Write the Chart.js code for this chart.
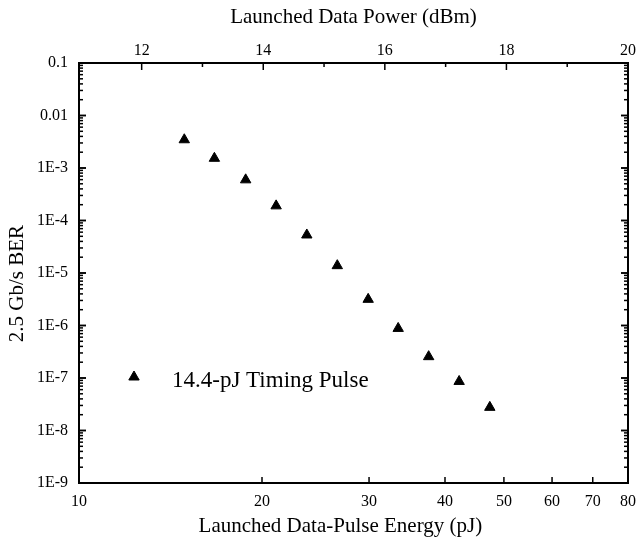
<!DOCTYPE html>
<html>
<head>
<meta charset="utf-8">
<title>BER x Energia</title>
<script src="https://cdn.jsdelivr.net/npm/chart.js@4.4.1/dist/chart.umd.min.js"></script>
<style>
	html, body { margin: 0; padding: 0; background: #fff; }
</style>
</head>
<body>
<canvas id="grafico" width="637" height="540"></canvas>
<script>
// Dados
const energiaPJ = [14.9, 16.7, 18.8, 21.1, 23.7, 26.6, 29.9, 33.5, 37.6, 42.2, 47.4];
const berMedido = [3.45e-3, 1.53e-3, 5.95e-4, 1.9e-4, 5.3e-5, 1.38e-5, 3.15e-6, 8.8e-7, 2.55e-7, 8.6e-8, 2.76e-8];

const ticksEnergia = [10, 20, 30, 40, 50, 60, 70, 80];
const ticksPotencia = [12, 14, 16, 18, 20];
const ticksBer = [1e-1, 1e-2, 1e-3, 1e-4, 1e-5, 1e-6, 1e-7, 1e-8, 1e-9];
const rotulosBer = ["0.1", "0.01", "1E-3", "1E-4", "1E-5", "1E-6", "1E-7", "1E-8", "1E-9"];

const fonte = "'Liberation Serif', 'Times New Roman', serif";

// potência média (dBm) = 10 log10(E * 1.25)
function paraDbm(e) {
	return 10 * Math.log10(e * 1.25);
}

function linha(ctx, x1, y1, x2, y2) {
	ctx.beginPath();
	ctx.moveTo(x1, y1);
	ctx.lineTo(x2, y2);
	ctx.stroke();
}

function triangulo(ctx, x, y, r) {
	ctx.beginPath();
	ctx.moveTo(x, y - r);
	ctx.lineTo(x + r * Math.sin(2 * Math.PI / 3), y + r / 2);
	ctx.lineTo(x - r * Math.sin(2 * Math.PI / 3), y + r / 2);
	ctx.closePath();
	ctx.fill();
	ctx.stroke();
}

// Moldura, marcas internas e legenda
const moldura = {
	id: "moldura",
	afterDatasetsDraw(chart) {
		const { ctx, chartArea: a, scales } = chart;
		ctx.save();
		ctx.strokeStyle = "#000";
		ctx.fillStyle = "#000";
		ctx.lineWidth = 1.5;

		for (let d = -9; d <= -2; d++) {
			for (let m = 1; m <= 10; m++) {
				const v = m * Math.pow(10, d);
				const y = scales.y.getPixelForValue(v);
				const tam = m === 1 || m === 10 ? 7 : 4;
				linha(ctx, a.left, y, a.left + tam, y);
				linha(ctx, a.right, y, a.right - tam, y);
			}
		}

		ticksEnergia.forEach((v) => {
			const x = scales.x.getPixelForValue(v);
			linha(ctx, x, a.bottom, x, a.bottom - 6);
		});

		for (let p = 12; p <= 20; p++) {
			const x = scales.x2.getPixelForValue(p);
			linha(ctx, x, a.top, x, a.top + (p % 2 === 0 ? 7 : 4));
		}

		ctx.lineWidth = 2;
		ctx.strokeRect(a.left, a.top, a.right - a.left, a.bottom - a.top);

		// legenda
		ctx.lineWidth = 1;
		triangulo(ctx, a.left + 55, a.top + 314, 6);
		ctx.font = "23px " + fonte;
		ctx.textBaseline = "alphabetic";
		ctx.textAlign = "left";
		ctx.fillText("14.4-pJ Timing Pulse", a.left + 93, a.top + 324);
		ctx.restore();
	},
};

const semGrade = { display: false, drawTicks: false, tickLength: 0 };
const fonteTicks = { family: fonte, size: 16 };
const fonteTitulo = { family: fonte, size: 21 };

// sem folga extra dos rótulos nas pontas do eixo
function semFolga(s) {
	s.paddingLeft = 0;
	s.paddingRight = 0;
}

const ctx = document.getElementById("grafico").getContext("2d");
const grafico = new Chart(ctx, {
	type: "scatter",
	data: {
		datasets: [
			{
				label: "14.4-pJ Timing Pulse",
				data: energiaPJ.map((e, i) => ({ x: e, y: berMedido[i] })),
				pointStyle: "triangle",
				radius: 6,
				backgroundColor: "#000",
				borderColor: "#000",
				borderWidth: 1,
				xAxisID: "x",
				yAxisID: "y",
			},
		],
	},
	options: {
		responsive: false,
		animation: false,
		layout: { padding: { left: 0, top: 0, right: 9, bottom: 0 } },
		plugins: {
			legend: { display: false },
			tooltip: { enabled: false },
		},
		scales: {
			x: {
				type: "logarithmic",
				position: "bottom",
				min: 10,
				max: 80,
				grid: semGrade,
				border: { display: false },
				afterBuildTicks: (s) => {
					s.ticks = ticksEnergia.map((v) => ({ value: v }));
				},
				afterFit: (s) => {
					s.height = 57;
					semFolga(s);
				},
				ticks: {
					callback: (v) => String(v),
					font: fonteTicks,
					color: "#000",
					padding: 9,
					maxRotation: 0,
					autoSkip: false,
				},
				title: {
					display: true,
					text: "Launched Data-Pulse Energy (pJ)     ",
					font: fonteTitulo,
					color: "#000",
					padding: { top: 0, bottom: 1 },
				},
			},
			x2: {
				type: "linear",
				position: "top",
				min: paraDbm(10),
				max: paraDbm(80),
				grid: semGrade,
				border: { display: false },
				afterBuildTicks: (s) => {
					s.ticks = ticksPotencia.map((v) => ({ value: v }));
				},
				afterFit: (s) => {
					s.height = 63;
					semFolga(s);
				},
				ticks: {
					callback: (v) => String(v),
					font: fonteTicks,
					color: "#000",
					padding: 3,
					maxRotation: 0,
					autoSkip: false,
				},
				title: {
					display: true,
					text: "Launched Data Power (dBm)",
					font: fonteTitulo,
					color: "#000",
					padding: { top: 5, bottom: 0 },
				},
			},
			y: {
				type: "logarithmic",
				position: "left",
				min: 1e-9,
				max: 0.1,
				grid: semGrade,
				border: { display: false },
				afterBuildTicks: (s) => {
					s.ticks = ticksBer.map((v) => ({ value: v }));
				},
				afterFit: (s) => {
					s.width = 79;
				},
				ticks: {
					callback: (v, i) => rotulosBer[i],
					font: fonteTicks,
					color: "#000",
					padding: 11,
					autoSkip: false,
				},
				title: {
					display: true,
					text: "2.5 Gb/s BER    ",
					font: fonteTitulo,
					color: "#000",
					padding: { top: 5, bottom: 0 },
				},
			},
		},
	},
	plugins: [moldura],
});
</script>
</body>
</html>
